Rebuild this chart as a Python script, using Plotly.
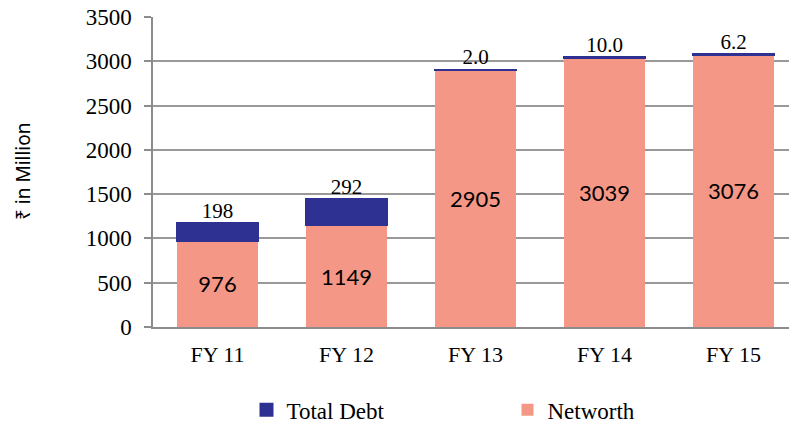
import plotly.graph_objects as go

categories = ["FY 11", "FY 12", "FY 13", "FY 14", "FY 15"]
networth = [976, 1149, 2905, 3039, 3076]
total_debt = [198, 292, 2.0, 10.0, 6.2]
debt_labels = ["198", "292", "2.0", "10.0", "6.2"]
y_ticks = [0, 500, 1000, 1500, 2000, 2500, 3000, 3500]

SERIF = "Liberation Serif, DejaVu Serif, serif"
SANS = "Lato, Noto Sans, sans-serif"
NW_COLOR = "#F59786"
DEBT_COLOR = "#2E3192"

totals = [a + b for a, b in zip(networth, total_debt)]

fig = go.Figure()
fig.add_trace(go.Bar(
    x=categories, y=networth, name="Networth",
    marker=dict(color=NW_COLOR, line=dict(width=0)),
    width=0.63,
    text=[str(v) for v in networth], textposition="inside",
    insidetextanchor="middle", textangle=0,
    textfont=dict(family=SANS, size=22, color="black"),
))
fig.add_trace(go.Bar(
    x=categories, y=total_debt, name="Total Debt",
    marker=dict(color=DEBT_COLOR, line=dict(width=2, color=DEBT_COLOR)),
    width=0.63,
))
fig.add_trace(go.Scatter(
    x=categories, y=totals, mode="text", text=debt_labels,
    textposition="top center", showlegend=False, hoverinfo="skip",
    textfont=dict(family=SERIF, size=21, color="black"),
))

fig.add_annotation(
    text="₹ in Million", xref="paper", yref="paper", x=0, y=0.5,
    xanchor="center", yanchor="middle", xshift=-130, textangle=-90,
    showarrow=False,
    font=dict(family="Noto Sans, DejaVu Sans, sans-serif", size=19, color="black"),
)

fig.update_layout(
    width=789, height=427,
    barmode="stack",
    plot_bgcolor="white", paper_bgcolor="white",
    margin=dict(l=153, r=0, t=17, b=100),
    showlegend=True,
    legend=dict(
        orientation="h", x=0.147, xanchor="left",
        yref="container", y=0.04, yanchor="middle",
        traceorder="reversed",
        font=dict(family=SERIF, size=23, color="black"),
        entrywidth=216, entrywidthmode="pixels",
    ),
    xaxis=dict(
        range=[-0.5, 4.43],
        showline=True, linecolor="#8c8c8c", linewidth=1.5,
        ticks="outside", ticklen=7, tickcolor="rgba(0,0,0,0)",
        tickfont=dict(family=SERIF, size=22, color="black"),
        showgrid=False,
    ),
    yaxis=dict(
        range=[0, 3500], tickvals=y_ticks,
        showline=True, linecolor="#8c8c8c", linewidth=1.5,
        ticks="outside", ticklen=7, tickcolor="#8c8c8c", tickwidth=1.5,
        ticklabelstandoff=8,
        showgrid=True, gridcolor="#999999", gridwidth=1.5,
        tickfont=dict(family=SERIF, size=23, color="black"),
        zeroline=False,
    ),
)

fig.write_html("out.html", config={"displayModeBar": False},
               post_script="document.body.style.margin='0';document.body.style.overflow='hidden';")
